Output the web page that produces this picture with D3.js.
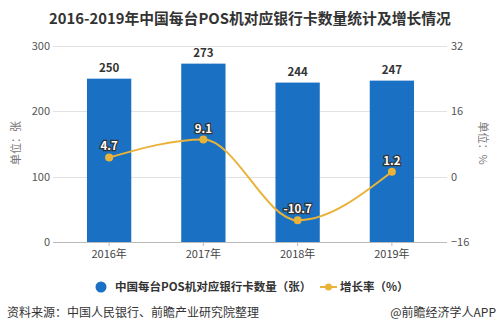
<!DOCTYPE html>
<html><head><meta charset="utf-8">
<script src="https://cdn.jsdelivr.net/npm/d3@7"></script>
<style>
body{margin:0;background:#fff;}
text{font-family:"Microsoft YaHei","Noto Sans CJK SC","Noto Sans",sans-serif;}
</style></head>
<body>
<svg id="c" width="499" height="333"></svg>
<script>
const categories = ["2016年","2017年","2018年","2019年"];
const cardCounts = [250, 273, 244, 247];
const growthRates = [4.7, 9.1, -10.7, 1.2];
const leftTicks = [0, 100, 200, 300];
const rightTicks = [-16, 0, 16, 32];

(function(){
const svg = d3.select("#c");
const pLeft = 62, pRight = 439, pTop = 46, pBottom = 242;
const font = '"Microsoft YaHei","Noto Sans CJK SC",sans-serif';

const x = d3.scaleBand().domain(categories).range([pLeft, pRight]).paddingInner(0.53).paddingOuter(0.265);
const y = d3.scaleLinear().domain([0, 300]).range([pBottom, pTop]);
const y2 = d3.scaleLinear().domain([-16, 32]).range([pBottom, pTop]);

svg.append("text").attr("x", 250).attr("y", 24).attr("text-anchor", "middle")
  .attr("font-size", 14.8).attr("font-weight", "bold").attr("fill", "#333")
  .text("2016-2019年中国每台POS机对应银行卡数量统计及增长情况");

svg.append("g").selectAll("line").data(leftTicks).join("line")
  .attr("x1", 53).attr("x2", 447)
  .attr("y1", d => Math.round(y(d)) + 0.5).attr("y2", d => Math.round(y(d)) + 0.5)
  .attr("stroke", d => d === 0 ? "#bbb" : "#e2e2e2").attr("stroke-width", 1);

const yAxis = d3.axisLeft(y).tickValues(leftTicks).tickSize(0).tickPadding(0);
const gy = svg.append("g").attr("transform", `translate(${50},0)`).call(yAxis);
gy.select(".domain").remove();
gy.selectAll("text").attr("font-size", 11).attr("fill", "#555").style("font-family", font);

const yAxis2 = d3.axisRight(y2).tickValues(rightTicks).tickSize(0).tickPadding(0);
const gy2 = svg.append("g").attr("transform", `translate(${451},0)`).call(yAxis2);
gy2.select(".domain").remove();
gy2.selectAll("text").attr("font-size", 11).attr("fill", "#555").style("font-family", font);

const xAxis = d3.axisBottom(x).tickSize(4).tickPadding(4);
const gx = svg.append("g").attr("transform", `translate(0,${pBottom})`).call(xAxis);
gx.select(".domain").remove();
gx.selectAll("line").attr("stroke", "#bbb");
gx.selectAll("text").attr("font-size", 11).attr("fill", "#444").style("font-family", font);

svg.append("text").attr("transform", "translate(20,143) rotate(-90)").attr("text-anchor", "middle")
  .attr("font-size", 11).attr("fill", "#777").text("单位：张");
svg.append("text").attr("transform", "translate(479,143) rotate(90)").attr("text-anchor", "middle")
  .attr("font-size", 11).attr("fill", "#777").text("单位：%");

const barColor = "#1a70c2";
svg.append("g").selectAll("rect").data(cardCounts).join("rect")
  .attr("x", (d, i) => x(categories[i])).attr("width", x.bandwidth())
  .attr("y", d => y(d)).attr("height", d => pBottom - y(d)).attr("fill", barColor);
svg.append("g").selectAll("text").data(cardCounts).join("text")
  .attr("x", (d, i) => x(categories[i]) + x.bandwidth() / 2).attr("y", d => y(d) - 7)
  .attr("text-anchor", "middle").attr("font-size", 11.5).attr("font-weight", "bold").attr("fill", "#333")
  .text(d => d);

const lineColor = "#e9b33a";
const cx = i => x(categories[i]) + x.bandwidth() / 2;
const line = d3.line().x((d, i) => cx(i)).y(d => y2(d)).curve(d3.curveMonotoneX);
svg.append("path").datum(growthRates).attr("d", line).attr("fill", "none")
  .attr("stroke", lineColor).attr("stroke-width", 2);
svg.append("g").selectAll("circle").data(growthRates).join("circle")
  .attr("cx", (d, i) => cx(i)).attr("cy", d => y2(d)).attr("r", 4).attr("fill", lineColor);
svg.append("g").selectAll("text").data(growthRates).join("text")
  .attr("x", (d, i) => cx(i)).attr("y", d => y2(d) - 7)
  .attr("text-anchor", "middle").attr("font-size", 11.5).attr("font-weight", "bold")
  .attr("fill", "#fff").attr("stroke", "#333").attr("stroke-width", 2.5).attr("paint-order", "stroke")
  .text(d => d);

const lg = svg.append("g");
lg.append("circle").attr("cx", 101).attr("cy", 287).attr("r", 5.5).attr("fill", barColor);
lg.append("text").attr("x", 115).attr("y", 291).attr("font-size", 11.5).attr("font-weight", "bold").attr("fill", "#333")
  .text("中国每台POS机对应银行卡数量（张）");
lg.append("line").attr("x1", 320).attr("x2", 337).attr("y1", 287).attr("y2", 287).attr("stroke", lineColor).attr("stroke-width", 2);
lg.append("circle").attr("cx", 328.5).attr("cy", 287).attr("r", 3.5).attr("fill", lineColor);
lg.append("text").attr("x", 340).attr("y", 291).attr("font-size", 11.5).attr("font-weight", "bold").attr("fill", "#333")
  .text("增长率（%）");

svg.append("text").attr("x", 7).attr("y", 317).attr("font-size", 12).attr("fill", "#333")
  .text("资料来源：中国人民银行、前瞻产业研究院整理");
svg.append("text").attr("x", 496).attr("y", 317).attr("text-anchor", "end").attr("font-size", 12).attr("fill", "#333")
  .text("@前瞻经济学人APP");
})();
</script>
</body></html>
